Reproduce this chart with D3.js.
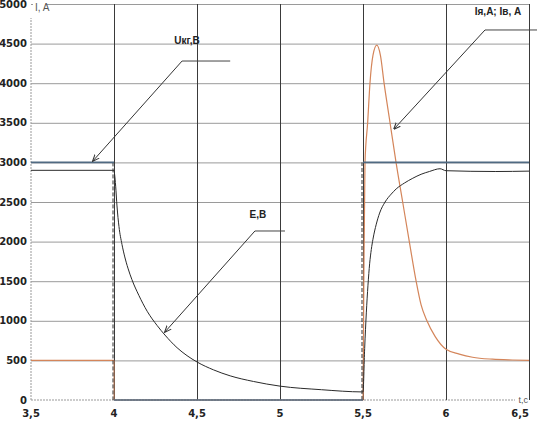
<!DOCTYPE html>
<html><head><meta charset="utf-8">
<script src="https://cdn.jsdelivr.net/npm/d3@7"></script>
<style>body{margin:0;background:#fff}svg{display:block}</style>
</head><body><svg id="c" width="537" height="424"></svg>
<script>
// ---- data ----
const xTicks = [3.5, 4, 4.5, 5, 5.5, 6, 6.5];
const xTickLabels = ["3,5", "4", "4,5", "5", "5,5", "6", "6,5"];
const yTicks = [0, 500, 1000, 1500, 2000, 2500, 3000, 3500, 4000, 4500, 5000];
const yTickLabels = ["0", "500", "1000", "1500", "2000", "2500", "3000", "3500", "4000", "4500", "5000"];

// Uкг, В
const tU = [3.5, 4.0, 4.0, 5.5, 5.5, 6.5];
const vU = [3000, 3000, 0, 0, 3000, 3000];
// Е, В
const tE = [3.5, 4.0, 4.003, 4.01, 4.018, 4.03, 4.048, 4.065, 4.084, 4.108, 4.15, 4.2, 4.26, 4.307, 4.38, 4.44, 4.5,
            4.6, 4.7, 4.84, 5.0, 5.25, 5.5,
            5.51, 5.52, 5.53, 5.54, 5.55, 5.56, 5.58, 5.6, 5.633, 5.67, 5.7, 5.75, 5.8, 5.85, 5.9, 5.964, 6.0, 6.3, 6.5];
const vE = [2900, 2900, 2860, 2700, 2450, 2190, 1965, 1806, 1665, 1520, 1320, 1120, 940, 820, 660, 560, 480,
            380, 305, 234, 175, 130, 102,
            650, 1100, 1450, 1720, 1900, 2030, 2220, 2360, 2500, 2600, 2665, 2740, 2800, 2850, 2885, 2920, 2895, 2885, 2890];
// Iя, А; Iв, А
const tI = [3.5, 4.0, 4.0, 5.5, 5.505, 5.512, 5.528, 5.542, 5.56, 5.583, 5.605, 5.627, 5.663, 5.699, 5.739, 5.779, 5.82,
            5.85, 5.885, 5.935, 6.0, 6.08, 6.16, 6.28, 6.4, 6.5];
const vI = [500, 500, 0, 0, 1500, 3000, 3500, 4000, 4350, 4480, 4350, 4000, 3500, 3000, 2500, 2000, 1500,
            1200, 1000, 800, 640, 580, 540, 515, 505, 500];

// annotations: label, text position, leader start, leader end, arrow tip (data units)
const annLabels = ["Uкг,В", "Е,В", "Iя,А; Iв, А"];
const annText = [[4.44, 4545], [4.867, 2336], [6.313, 4899]];
const annLeadA = [[4.41, 4280], [4.849, 2134], [6.235, 4672]];
const annLeadB = [[4.70, 4280], [5.03, 2134], [6.55, 4672]];
const annTip = [[3.873, 3018], [4.307, 859], [5.687, 3422]];

// ---- chart ----
const svg = d3.select("#c");
const x = d3.scaleLinear().domain([3.5, 6.5]).range([31, 529]);
const y = d3.scaleLinear().domain([0, 5000]).range([400, 4]);
const font = "'DejaVu Sans', Verdana, sans-serif";

// horizontal gridlines
const gy = svg.append("g").attr("transform", `translate(${x(3.5)},0)`)
  .call(d3.axisLeft(y).tickValues(yTicks.slice(1)).tickSize(-(x(6.5) - x(3.5))).tickFormat(""));
gy.select(".domain").remove();
gy.selectAll("line").attr("stroke", "#9a9a9a").attr("stroke-width", 1);

// x axis baseline (dotted) and y axis (dotted)
svg.append("line").attr("x1", x(3.5)).attr("x2", x(6.5) - 14).attr("y1", y(0)).attr("y2", y(0))
  .attr("stroke", "#999").attr("stroke-dasharray", "2,1");
svg.append("line").attr("x1", x(3.5)).attr("x2", x(3.5)).attr("y1", y(0)).attr("y2", y(5000) + 14)
  .attr("stroke", "#999").attr("stroke-dasharray", "2,1");

// vertical gridlines
const gx = svg.append("g").attr("transform", `translate(0,${y(0)})`)
  .call(d3.axisBottom(x).tickValues(xTicks.slice(1)).tickSize(-(y(0) - y(5000))).tickFormat(""));
gx.select(".domain").remove();
gx.selectAll("line").attr("stroke", "#3a3a3a").attr("stroke-width", 1);

// tick labels
svg.append("g").selectAll("text").data(yTicks).join("text")
  .attr("x", 27).attr("y", d => y(d)).attr("dy", "0.35em").attr("text-anchor", "end")
  .attr("font-family", font).attr("font-weight", "bold").attr("font-size", 10).attr("fill", "#222")
  .text((d, i) => yTickLabels[i]);
svg.append("g").selectAll("text").data(xTicks).join("text")
  .attr("x", d => x(d))
  .attr("y", 417).attr("text-anchor", (d, i) => i === xTicks.length - 1 ? "end" : "middle")
  .attr("font-family", font).attr("font-weight", "bold").attr("font-size", 10).attr("fill", "#222")
  .text((d, i) => xTickLabels[i]);

// axis titles
svg.append("rect").attr("x", 33).attr("y", 0).attr("width", 14).attr("height", 14).attr("fill", "#fff");
svg.append("text").attr("x", 35).attr("y", 11).attr("font-family", "'Liberation Sans', Arial, sans-serif")
  .attr("font-size", 10).attr("fill", "#555").text("I, A");
svg.append("text").attr("x", 528).attr("y", 403).attr("text-anchor", "end")
  .attr("font-family", "'Liberation Sans', Arial, sans-serif").attr("font-size", 9).attr("fill", "#555").text("t,c");

// series drawing: smooth pieces, vertical jumps straight
function drawSeries(ts, vs, color, width, jumpDash) {
  const pts = ts.map((t, i) => [t, vs[i]]);
  const pieces = [];
  let cur = [pts[0]];
  for (let i = 1; i < pts.length; i++) {
    if (pts[i][0] === pts[i - 1][0]) {
      pieces.push(cur);
      svg.append("line").attr("x1", x(pts[i - 1][0]) - (jumpDash ? 1 : 0)).attr("x2", x(pts[i][0]) - (jumpDash ? 1 : 0))
        .attr("y1", y(pts[i - 1][1])).attr("y2", y(pts[i][1]))
        .attr("stroke", jumpDash ? "#333" : color).attr("stroke-width", 1)
        .attr("stroke-dasharray", jumpDash ? "4,2" : null);
      cur = [pts[i]];
    } else cur.push(pts[i]);
  }
  pieces.push(cur);
  const line = d3.line().x(d => x(d[0])).y(d => y(d[1])).curve(d3.curveMonotoneX);
  pieces.forEach(p => {
    if (p.length > 1) svg.append("path").attr("d", line(p)).attr("fill", "none")
      .attr("stroke", color).attr("stroke-width", width).attr("stroke-linejoin", "round");
  });
}
drawSeries(tI, vI, "#d4855a", 1.2, false);
drawSeries(tE, vE, "#2a2a2a", 1, false);
drawSeries(tU, vU, "#506a82", 1.6, true);

// annotations
const defs = svg.append("defs");
defs.append("marker").attr("id", "ah").attr("viewBox", "0 0 10 10").attr("refX", 9).attr("refY", 5)
  .attr("markerWidth", 7).attr("markerHeight", 7).attr("orient", "auto")
  .append("path").attr("d", "M0,1 L10,5 L0,9").attr("fill", "none").attr("stroke", "#333").attr("stroke-width", 1.5);
annLabels.forEach((lab, i) => {
  svg.append("line").attr("x1", x(annLeadA[i][0])).attr("y1", y(annLeadA[i][1]))
    .attr("x2", x(annLeadB[i][0])).attr("y2", y(annLeadB[i][1])).attr("stroke", "#444").attr("stroke-width", 1);
  svg.append("line").attr("x1", x(annLeadA[i][0])).attr("y1", y(annLeadA[i][1]))
    .attr("x2", x(annTip[i][0])).attr("y2", y(annTip[i][1])).attr("stroke", "#333").attr("stroke-width", 1)
    .attr("marker-end", "url(#ah)");
  svg.append("text").attr("x", x(annText[i][0])).attr("y", y(annText[i][1])).attr("dy", "0.35em")
    .attr("text-anchor", "middle").attr("font-family", "'Liberation Sans', Arial, sans-serif")
    .attr("font-weight", "bold").attr("font-size", 10).attr("fill", "#222").text(lab);
});
</script></body></html>
